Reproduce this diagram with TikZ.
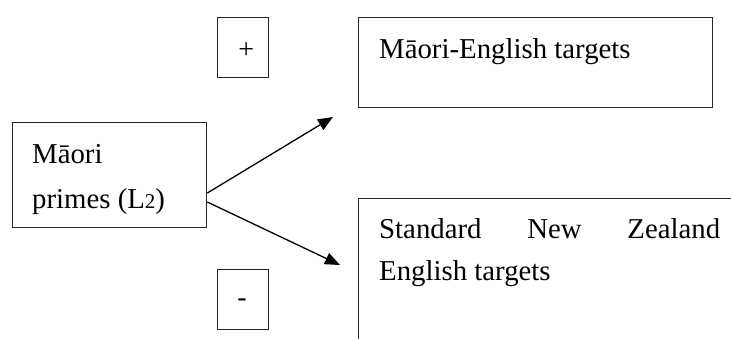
\documentclass[tikz,border=0pt]{standalone}
\usepackage{fontspec}
\setmainfont{Liberation Serif}
\usetikzlibrary{arrows.meta}
\begin{document}
\begin{tikzpicture}[x=1pt,y=-1pt,
  box/.style={draw=black!85, line width=1.3pt, inner sep=0pt, anchor=north west},
  lbl/.style={anchor=base west, inner sep=0pt, font=\fontsize{28.8}{34}\selectfont},
  sign/.style={inner sep=0pt, font=\fontsize{28}{34}\selectfont},
  link/.style={line width=1.3pt, -{Triangle[length=15pt,width=12pt]}}]
\useasboundingbox (0,0) rectangle (731,338);
\clip (0,0) rectangle (731,338);

% boxes
\node[box, minimum width=194pt, minimum height=105pt] (prime) at (12,122) {};
\node[box, minimum width=51pt, minimum height=60pt] (plus) at (217,17) {};
\node[box, minimum width=51pt, minimum height=60pt] (minus) at (217,269) {};
\node[box, minimum width=354pt, minimum height=90pt] (mixed) at (358,17) {};
\node[box, minimum width=420pt, minimum height=200pt] (standard) at (358,198) {};

% signs
\node[sign] (plussign) at ([xshift=3pt,yshift=-3pt]plus.center) {+};
\node[sign] (minussign) at ([xshift=-1pt,yshift=-3pt]minus.center) {-};

% labels
\node[lbl] (primeA) at (32,163) {Māori};
\node[lbl] (primeB) at (32,208) {primes (L{\fontsize{21}{21}\selectfont 2})};
\node[lbl] (mixedT) at (379,58) {Māori-English targets};
\node[lbl] (stdA) at (379,238) {\makebox[341pt][s]{Standard\hfill New\hfill Zealand}};
\node[lbl] (stdB) at (379,280) {English targets};

% arrows
\coordinate (outUp) at (prime.east |- 0,193);
\coordinate (outDown) at (prime.east |- 0,202);
\coordinate (tipUp) at (333,117);
\coordinate (tipDown) at (340,265);
\draw[link] (outUp) -- (tipUp);
\draw[link] (outDown) -- (tipDown);
\end{tikzpicture}
\end{document}
